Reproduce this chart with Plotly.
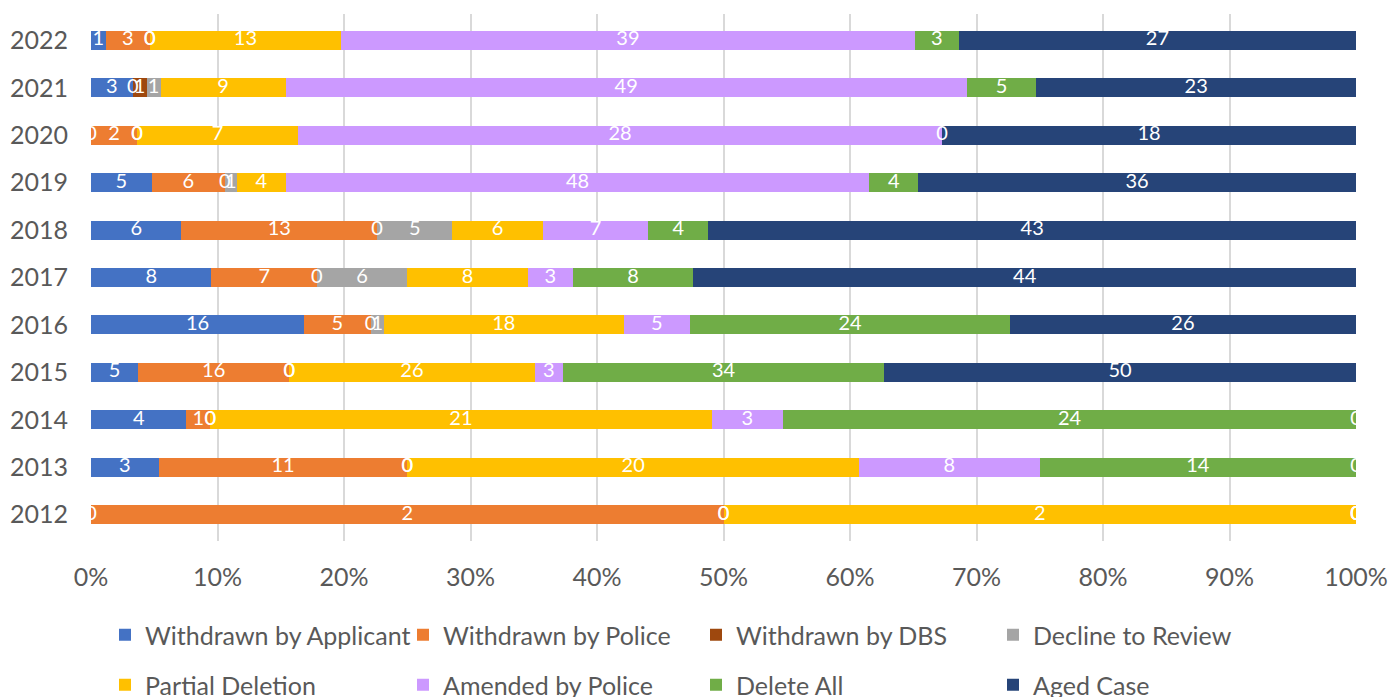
import numpy as np
import plotly.graph_objects as go

years = ["2012", "2013", "2014", "2015", "2016", "2017", "2018", "2019", "2020", "2021", "2022"]
series_names = ["Withdrawn by Applicant", "Withdrawn by Police", "Withdrawn by DBS", "Decline to Review",
                "Partial Deletion", "Amended by Police", "Delete All", "Aged Case"]
colors = ["#4472C4", "#ED7D31", "#9E480E", "#A5A5A5", "#FFC000", "#CC99FF", "#70AD47", "#264478"]
tick_values = list(range(0, 101, 10))
tick_labels = [f"{v}%" for v in tick_values]

withdrawn_applicant = [0, 3, 4, 5, 16, 8, 6, 5, 0, 3, 1]
withdrawn_police    = [2, 11, 1, 16, 5, 7, 13, 6, 2, 0, 3]
withdrawn_dbs       = [0, 0, 0, 0, 0, 0, 0, 0, 0, 1, 0]
decline_review      = [0, 0, 0, 0, 1, 6, 5, 1, 0, 1, 0]
partial_deletion    = [2, 20, 21, 26, 18, 8, 6, 4, 7, 9, 13]
amended_police      = [0, 8, 3, 3, 5, 3, 7, 48, 28, 49, 39]
delete_all          = [0, 14, 24, 34, 24, 8, 4, 4, 0, 5, 3]
aged_case           = [0, 0, 0, 50, 26, 44, 43, 36, 18, 23, 27]

data = [withdrawn_applicant, withdrawn_police, withdrawn_dbs, decline_review,
        partial_deletion, amended_police, delete_all, aged_case]

FONT = "Lato"
AX_SIZE = 25
LBL_SIZE = 20

arr = np.array(data, dtype=float)
totals = arr.sum(axis=0)
cum = np.cumsum(arr, axis=0) - arr

fig = go.Figure()
for i, (name, vals, col) in enumerate(zip(series_names, data, colors)):
    fig.add_trace(go.Bar(
        y=years, x=vals, name=name, orientation="h",
        marker=dict(color=col, line=dict(width=0)),
        legend="legend" if i == 0 else f"legend{i+1}",
        hoverinfo="skip",
    ))

# data labels (including zero values), positioned at segment centres
for i, vals in enumerate(data):
    centres = (cum[i] + arr[i] / 2) / totals * 100
    fig.add_trace(go.Scatter(
        x=centres, y=years, mode="text", text=[str(v) for v in vals],
        textfont=dict(family=FONT, size=LBL_SIZE, color="white"),
        showlegend=False, cliponaxis=True, hoverinfo="skip",
    ))

fig.update_layout(
    barmode="stack", barnorm="percent", bargap=0.6,
    width=1388, height=697,
    margin=dict(l=91, r=32, t=14, b=156, autoexpand=False),
    paper_bgcolor="white", plot_bgcolor="white",
    font=dict(family=FONT, size=AX_SIZE, color="#595959"),
    xaxis=dict(range=[0, 100], tickmode="array", tickvals=tick_values, ticktext=tick_labels,
               showgrid=True, gridcolor="#D9D9D9", gridwidth=2, zeroline=False,
               showline=False, ticks="", ticklabelstandoff=19,
               tickfont=dict(family=FONT, size=AX_SIZE, color="#595959")),
    yaxis=dict(type="category", categoryorder="array", categoryarray=years,
               showgrid=False, zeroline=False, showline=False, ticks="",
               ticklabelstandoff=22,
               tickfont=dict(family=FONT, size=AX_SIZE, color="#595959")),
)

# one legend per entry to reproduce the 4x2 grid of the original
leg_x_px = [105, 403, 696, 993]
leg_y_px = [635, 685]
for i in range(8):
    col_i = i % 4
    row_i = i // 4
    key = "legend" if i == 0 else f"legend{i+1}"
    fig.update_layout(**{key: dict(x=leg_x_px[col_i] / 1388, y=1 - leg_y_px[row_i] / 697,
                                   xref="container", yref="container",
                                   xanchor="left", yanchor="middle",
                                   orientation="h", bgcolor="rgba(0,0,0,0)",
                                   font=dict(family=FONT, size=AX_SIZE, color="#595959"),
                                   itemclick=False, itemdoubleclick=False)})

fig.write_html("out.html")
